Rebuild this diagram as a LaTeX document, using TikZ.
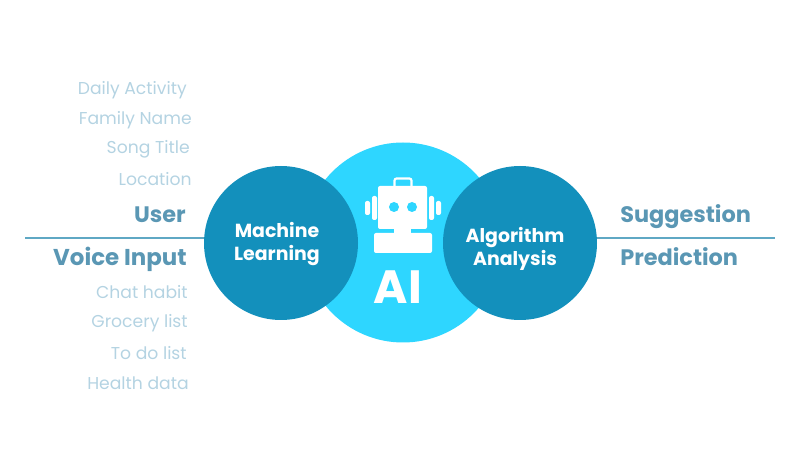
\documentclass[tikz,border=0pt]{standalone}
\usepackage{fontspec}
\setmainfont{Poppins}
\usepackage{xcolor}
\usetikzlibrary{positioning}
\definecolor{deepblue}{HTML}{1390BC}
\definecolor{skyblue}{HTML}{2ED6FF}
\definecolor{softtext}{HTML}{B4D3E2}
\definecolor{boldtext}{HTML}{5A97B4}
\definecolor{rulecol}{HTML}{5FA8C4}

\begin{document}
\begin{tikzpicture}[
  x=0.75pt, y=-0.75pt,
  bigdisc/.style={circle, fill=skyblue, minimum size=150pt, inner sep=0pt},
  sidedisc/.style={circle, fill=deepblue, minimum size=115.5pt, inner sep=0pt},
  disclabel/.style={align=center, inner sep=0pt, text=white, font=\fontsize{14.2}{17.2}\selectfont\bfseries},
  item/.style={anchor=base east, inner sep=0pt, text=softtext, font=\fontsize{12.9}{15}\selectfont},
  head/.style={anchor=base east, inner sep=0pt, text=boldtext, font=\fontsize{16.8}{18}\selectfont\bfseries},
  robot/.style={fill=white, rounded corners=1.5pt},
  link/.style={draw=rulecol, line width=0.9pt}
]
\useasboundingbox (0,0) rectangle (800,463);

\coordinate (lineL) at (25,238);
\coordinate (lineR) at (775,238);
\draw[link] (lineL) -- (lineR);

\node[bigdisc] (core) at (403,242.5) {};
\node[sidedisc] (ml) at (281,243) {};
\node[sidedisc] (algo) at (520,243) {};
\node[disclabel] (mltext) at (277,244) {Machine\\Learning};
\node[disclabel] (algotext) at (515,249) {Algorithm\\Analysis};

% left column
\node[item] (daily) at (187,95) {Daily Activity};
\node[item] (family) at (192,125) {Family Name};
\node[item] (song) at (190,154) {Song Title};
\node[item] (loc) at (192,186) {Location};
\node[head] (user) at (186,223) {User};
\node[head, font=\fontsize{17.2}{18}\selectfont\bfseries] (voice) at (187,266) {Voice Input};
\node[item] (chat) at (188,299) {Chat habit};
\node[item] (grocery) at (188,328) {Grocery list};
\node[item] (todo) at (187,359) {To do list};
\node[item] (health) at (189,390) {Health data};

% right column
\node[head, anchor=base west] (sugg) at (620,223) {Suggestion};
\node[head, anchor=base west] (pred) at (620,266) {Prediction};

% robot
\draw[white, line width=1.6pt, rounded corners=1.5pt] (394.5,186) -- (394.5,178.5) -- (411.5,178.5) -- (411.5,186);
\fill[robot] (378,186) rectangle (427,229);
\fill[white] (394,228) rectangle (411,235);
\fill[robot] (374,233) rectangle (432,253);
\fill[skyblue] (394,207) circle (5) (412,207) circle (5);
\fill[robot] (372,196) rectangle (377,220);
\fill[robot] (365,201) rectangle (370,215);
\fill[robot] (429,196) rectangle (434,220);
\fill[robot] (436,201) rectangle (441,215);
\node[text=white, anchor=base, inner sep=0pt, font=\fontsize{35}{36}\selectfont\bfseries] (ai) at (398,304) {AI};
\end{tikzpicture}
\end{document}
